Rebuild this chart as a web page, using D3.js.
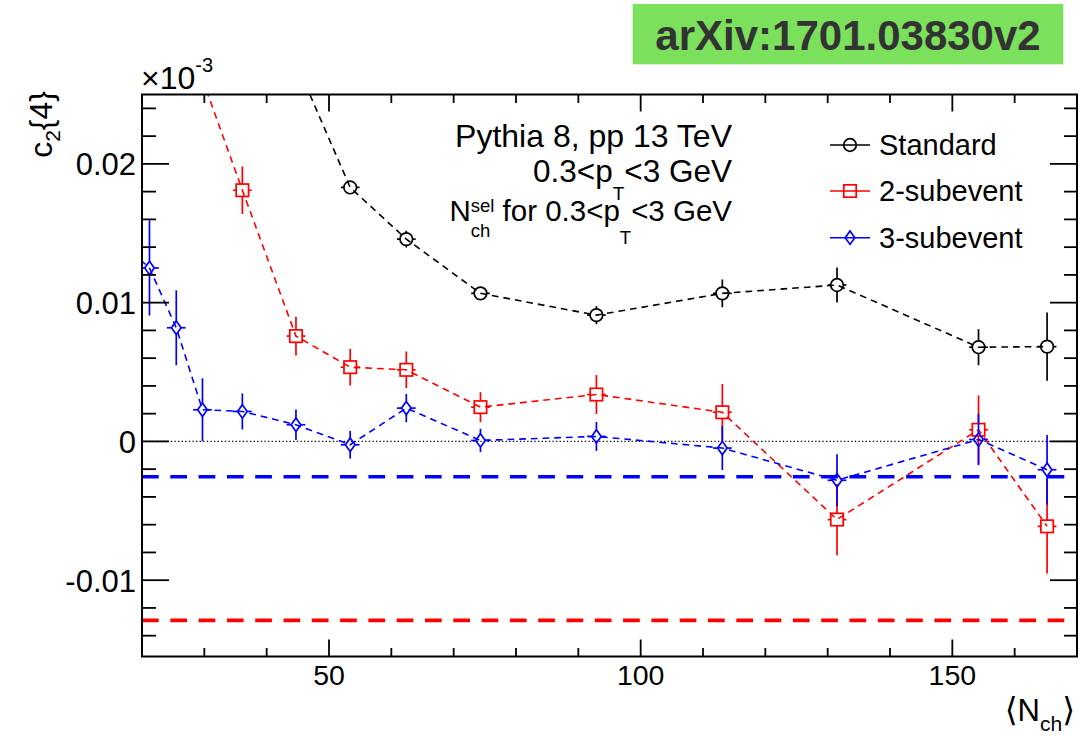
<!DOCTYPE html>
<html><head><meta charset="utf-8">
<script src="https://cdn.jsdelivr.net/npm/d3@7"></script>
<style>
html,body{margin:0;padding:0;background:#fff;}
svg{display:block;font-family:"Liberation Sans",Arial,Helvetica,sans-serif;}
text{white-space:pre;}
</style>
</head><body>
<svg id="chart" width="1092" height="736"></svg>
<script>
// ---------------- data (axis units, as labelled) ----------------
const stdN  = [44.7, 53.4, 62.4, 74.3, 92.9, 113.1, 131.5, 154.2, 165.2];
const stdV  = [0.0273, 0.0183, 0.01458, 0.01067, 0.0091, 0.01067, 0.01127, 0.00679, 0.00683];
const stdE  = [0.0005, 0.0004, 0.0006, 0.00045, 0.00065, 0.0010, 0.00126, 0.0013, 0.00246];

const sub2N = [29.7, 36.1, 44.7, 53.4, 62.4, 74.3, 92.9, 113.1, 131.5, 154.2, 165.2];
const sub2V = [0.0261, 0.0181, 0.00759, 0.00535, 0.00516, 0.00247, 0.00338, 0.0021, -0.00563, 0.00084, -0.00612];
const sub2E = [0.0008, 0.00171, 0.0014, 0.00132, 0.00132, 0.00108, 0.0014, 0.00204, 0.00257, 0.00247, 0.0034];

const sub3N = [17.0, 21.2, 25.5, 29.7, 36.1, 44.7, 53.4, 62.4, 74.3, 92.9, 113.1, 131.5, 154.2, 165.2];
const sub3V = [0.0142, 0.0125, 0.00819, 0.00228, 0.00216, 0.0012, -0.00024, 0.0024, 0.00007, 0.00036, -0.00048, -0.0028, 0.00014, -0.00204];
const sub3E = [0.003, 0.00343, 0.0027, 0.00227, 0.0013, 0.0011, 0.0010, 0.00102, 0.00084, 0.00104, 0.00158, 0.00187, 0.00185, 0.0025];

const xErr = 1.5;

const refLineValues = [-0.00255, -0.0129];
const refLineColors = ["#0000ff", "#ff0000"];

const seriesNames = ["Standard", "2-subevent", "3-subevent"];
const seriesColors = ["#000000", "#ff0000", "#0000ff"];
const seriesMarkers = ["circle", "square", "diamond"];

const xDomain = [20, 170];
const yDomain = [-0.0155, 0.025];
const xMajorTicks = [50, 100, 150];
const xTickLabels = ["50", "100", "150"];
const yMajorTicks = [-0.01, 0, 0.01, 0.02];
const yTickLabels = ["-0.01", "0", "0.01", "0.02"];
const xMinorStep = 10;
const yMinorStep = 0.002;

const badgeText = "arXiv:1701.03830v2";

// ---------------- layout ----------------
const L = 142, R = 1077, T = 94.5, B = 656.5;
const svg = d3.select("#chart");
const x = d3.scaleLinear().domain(xDomain).range([L, R]);
const y = d3.scaleLinear().domain(yDomain).range([B, T]);

// helper: rich text with sub/superscripts
function rich(parent, parts, ax, ay, anchor) {
  const g = parent.append("g");
  let cx = 0, gStart = 0, gMax = 0;
  parts.forEach(p => {
    const t = g.append("text")
      .attr("font-size", p.size)
      .attr("y", ay + (p.dy || 0))
      .attr("fill", p.color || "#000")
      .text(p.text);
    if (p.font) t.attr("font-family", p.font);
    if (p.weight) t.attr("font-weight", p.weight);
    const w = t.node().getComputedTextLength();
    if (p.stack) {
      t.attr("x", gStart);
      gMax = Math.max(gMax, w);
      cx = gStart + gMax;
    } else {
      gStart = cx; gMax = w;
      t.attr("x", cx);
      cx += w;
    }
  });
  const off = anchor === "end" ? ax - cx : anchor === "middle" ? ax - cx / 2 : ax;
  g.attr("transform", `translate(${off},0)`);
  return g;
}

// ---------------- badge ----------------
svg.append("rect").attr("x", 632.7).attr("y", 4).attr("width", 430.6).attr("height", 60.3)
  .attr("fill", "#7be05b");
svg.append("text").attr("x", 848).attr("y", 50).attr("text-anchor", "middle")
  .attr("font-size", 42).attr("font-weight", "bold").attr("fill", "#333333")
  .text(badgeText);

// ---------------- clip ----------------
svg.append("defs").append("clipPath").attr("id", "plotclip")
  .append("rect").attr("x", L).attr("y", T).attr("width", R - L).attr("height", B - T);

const plot = svg.append("g").attr("clip-path", "url(#plotclip)");

// zero line (dotted)
plot.append("line").attr("x1", L).attr("x2", R).attr("y1", y(0)).attr("y2", y(0))
  .attr("stroke", "#000").attr("stroke-width", 1.3).attr("stroke-dasharray", "1.3,2.3");

// markers
function drawMarker(g, type, cx, cy, color) {
  if (type === "circle") {
    g.append("circle").attr("cx", cx).attr("cy", cy).attr("r", 6.3)
      .attr("fill", "none").attr("stroke", color).attr("stroke-width", 1.7);
  } else if (type === "square") {
    g.append("rect").attr("x", cx - 6.2).attr("y", cy - 6.2).attr("width", 12.4).attr("height", 12.4)
      .attr("fill", "none").attr("stroke", color).attr("stroke-width", 1.7);
  } else {
    g.append("path").attr("d", `M${cx},${cy - 6.7}L${cx + 4.8},${cy}L${cx},${cy + 6.7}L${cx - 4.8},${cy}Z`)
      .attr("fill", "none").attr("stroke", color).attr("stroke-width", 1.7);
  }
}
const markerHalfW = {circle: 6.3, square: 6.2, diamond: 4.8};
const markerHalfH = {circle: 6.3, square: 6.2, diamond: 6.7};

const seriesData = [
  {N: stdN, V: stdV, E: stdE},
  {N: sub2N, V: sub2V, E: sub2E},
  {N: sub3N, V: sub3V, E: sub3E}
];

const line = d3.line().x(d => x(d.n)).y(d => y(d.v));

seriesData.forEach((s, i) => {
  const color = seriesColors[i], mk = seriesMarkers[i];
  const pts = s.N.map((n, j) => ({n, v: s.V[j], e: s.E[j]}));
  const g = plot.append("g");
  g.append("path").attr("d", line(pts)).attr("fill", "none")
    .attr("stroke", color).attr("stroke-width", 1.6).attr("stroke-dasharray", "6.7,5");
  pts.forEach(p => {
    const cx = x(p.n), cy = y(p.v);
    const hh = markerHalfH[mk], hw = markerHalfW[mk];
    const eyTop = y(p.v + p.e), eyBot = y(p.v - p.e);
    if (cy - eyTop > hh) {
      g.append("line").attr("x1", cx).attr("x2", cx).attr("y1", cy - hh).attr("y2", eyTop)
        .attr("stroke", color).attr("stroke-width", 1.7);
      g.append("line").attr("x1", cx).attr("x2", cx).attr("y1", cy + hh).attr("y2", eyBot)
        .attr("stroke", color).attr("stroke-width", 1.7);
    }
    const exL = x(p.n - xErr), exR = x(p.n + xErr);
    if (cx - exL > hw) {
      g.append("line").attr("x1", exL).attr("x2", cx - hw).attr("y1", cy).attr("y2", cy)
        .attr("stroke", color).attr("stroke-width", 1.7);
      g.append("line").attr("x1", cx + hw).attr("x2", exR).attr("y1", cy).attr("y2", cy)
        .attr("stroke", color).attr("stroke-width", 1.7);
    }
    drawMarker(g, mk, cx, cy, color);
  });
});

// thick reference lines
refLineValues.forEach((v, i) => {
  plot.append("line").attr("x1", L).attr("x2", R).attr("y1", y(v)).attr("y2", y(v))
    .attr("stroke", refLineColors[i]).attr("stroke-width", 3.6).attr("stroke-dasharray", "16.7,11.6");
});

// ---------------- frame & ticks ----------------
const axisG = svg.append("g").attr("stroke", "#000");
axisG.append("rect").attr("x", L).attr("y", T).attr("width", R - L).attr("height", B - T)
  .attr("fill", "none").attr("stroke-width", 2);

const xMinor = d3.range(xDomain[0] + xMinorStep, xDomain[1], xMinorStep).filter(v => !xMajorTicks.includes(v));
const yMinor = d3.range(-0.014, 0.0245, yMinorStep).map(v => +v.toFixed(4))
  .filter(v => !yMajorTicks.some(m => Math.abs(m - v) < 1e-9));

xMajorTicks.forEach(v => {
  axisG.append("line").attr("x1", x(v)).attr("x2", x(v)).attr("y1", B).attr("y2", B - 17).attr("stroke-width", 1.8);
  axisG.append("line").attr("x1", x(v)).attr("x2", x(v)).attr("y1", T).attr("y2", T + 17).attr("stroke-width", 1.8);
});
xMinor.forEach(v => {
  axisG.append("line").attr("x1", x(v)).attr("x2", x(v)).attr("y1", B).attr("y2", B - 8.5).attr("stroke-width", 1.8);
  axisG.append("line").attr("x1", x(v)).attr("x2", x(v)).attr("y1", T).attr("y2", T + 8.5).attr("stroke-width", 1.8);
});
yMajorTicks.forEach(v => {
  axisG.append("line").attr("x1", L).attr("x2", L + 27).attr("y1", y(v)).attr("y2", y(v)).attr("stroke-width", 1.8);
  axisG.append("line").attr("x1", R).attr("x2", R - 27).attr("y1", y(v)).attr("y2", y(v)).attr("stroke-width", 1.8);
});
yMinor.forEach(v => {
  axisG.append("line").attr("x1", L).attr("x2", L + 14).attr("y1", y(v)).attr("y2", y(v)).attr("stroke-width", 1.8);
  axisG.append("line").attr("x1", R).attr("x2", R - 13).attr("y1", y(v)).attr("y2", y(v)).attr("stroke-width", 1.8);
});

// tick labels
xMajorTicks.forEach((v, i) => {
  svg.append("text").attr("x", x(v)).attr("y", 685).attr("text-anchor", "middle")
    .attr("font-size", 28.5).text(xTickLabels[i]);
});
yMajorTicks.forEach((v, i) => {
  svg.append("text").attr("x", 136).attr("y", y(v) + 11.5).attr("text-anchor", "end")
    .attr("font-size", 31).text(yTickLabels[i]);
});

// exponent label
rich(svg, [
  {text: "\u00d710", size: 32},
  {text: "-3", size: 20, dy: -17}
], 141, 89, "start");

// y title
const yt = svg.append("g").attr("transform", "translate(52,91) rotate(-90)");
rich(yt, [
  {text: "c", size: 32},
  {text: "2", size: 21, dy: 8},
  {text: "{4}", size: 32}
], 0, 0, "end");

// x title
rich(svg, [
  {text: "\u27e8", size: 33, font: "DejaVu Sans"},
  {text: "N", size: 31},
  {text: "ch", size: 21, dy: 10},
  {text: "\u27e9", size: 33, font: "DejaVu Sans"}
], 1075, 721, "end");

// text box
rich(svg, [{text: "Pythia 8, pp 13 TeV", size: 32}], 732, 146.7, "end");
rich(svg, [
  {text: "0.3<p", size: 31.5},
  {text: "T", size: 19, dy: 18},
  {text: "<3 GeV", size: 31.5}
], 732, 182.3, "end");
rich(svg, [
  {text: "N", size: 29.5},
  {text: "sel", size: 18.5, dy: -9},
  {text: "ch", size: 18.5, dy: 15.5, stack: true},
  {text: " for 0.3<p", size: 29.5},
  {text: "T", size: 18.5, dy: 23},
  {text: "<3 GeV", size: 29.5}
], 732, 221, "end");

// legend
const legRows = [145, 191, 237.7];
seriesNames.forEach((name, i) => {
  const ly = legRows[i];
  svg.append("line").attr("x1", 830).attr("x2", 870).attr("y1", ly).attr("y2", ly)
    .attr("stroke", seriesColors[i]).attr("stroke-width", 1.6);
  drawMarker(svg, seriesMarkers[i], 850, ly, seriesColors[i]);
  svg.append("text").attr("x", 879).attr("y", ly + 10).attr("font-size", 29).text(name);
});
</script>
</body></html>
